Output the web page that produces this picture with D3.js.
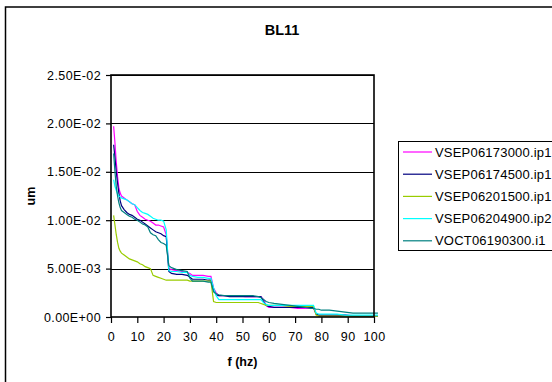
<!DOCTYPE html>
<html>
<head>
<meta charset="utf-8">
<script src="https://cdn.jsdelivr.net/npm/d3@7"></script>
<style>
  body { margin: 0; background: #fff; }
  text { font-family: "Liberation Sans", Arial, sans-serif; fill: #000; }
</style>
</head>
<body>
<svg class="chart" width="552" height="382"></svg>
<script>
//data
let seriesNames = ["VSEP06173000.ip1", "VSEP06174500.ip1", "VSEP06201500.ip1", "VSEP06204900.ip2", "VOCT06190300.i1"];
let seriesColors = ["#ff00ff", "#000080", "#99cc00", "#00ffff", "#008080"];
let yTicks = [0, 0.005, 0.01, 0.015, 0.02, 0.025];
let yTickLabels = ["0.00E+00", "5.00E-03", "1.00E-02", "1.50E-02", "2.00E-02", "2.50E-02"];
let xTicks = [0, 10, 20, 30, 40, 50, 60, 70, 80, 90, 100];

let freq = [1, 1.5, 2, 2.5, 3, 3.5, 4, 5, 6, 7, 8, 9, 10, 11, 12, 13, 14, 15, 16, 17, 18, 19, 20, 21,
  22, 23, 25, 27, 29, 30, 31, 33, 35, 37, 38, 39, 40, 41, 43, 45, 48, 51, 54, 56, 57, 58, 59, 60,
  62, 65, 68, 71, 74, 76, 77, 78, 79, 80, 83, 86, 89, 92, 95, 98, 101.5];

let magenta = [0.0197, 0.0180, 0.0160, 0.0145, 0.0133, 0.0128, 0.0125, 0.0123, 0.0121, 0.0119, 0.0117, 0.0116, 0.0109, 0.0105, 0.0103, 0.0101, 0.0100, 0.0099, 0.0097, 0.0095, 0.0095, 0.0094, 0.0093, 0.0085,
  0.0050, 0.0049, 0.0048, 0.0047, 0.0046, 0.0045, 0.0043, 0.0043, 0.0043, 0.0042, 0.0042, 0.0030, 0.0025, 0.0022, 0.0022, 0.0022, 0.0022, 0.0021, 0.0021, 0.0021, 0.0021, 0.0018, 0.0012, 0.0010,
  0.0010, 0.0010, 0.0010, 0.0009, 0.0009, 0.0009, 0.0009, 0.0003, 0.0002, 0.0002, 0.0002, 0.0002, 0.0002, 0.00015, 0.00015, 0.00015, 0.00015];

let navy = [0.0178, 0.0165, 0.0150, 0.0138, 0.0128, 0.0120, 0.0115, 0.0111, 0.0108, 0.0106, 0.0105, 0.0103, 0.0101, 0.0100, 0.0098, 0.0096, 0.0094, 0.0092, 0.0090, 0.0088, 0.0087, 0.0086, 0.0084, 0.0083,
  0.0047, 0.0045, 0.0044, 0.0044, 0.0043, 0.0041, 0.0039, 0.0039, 0.0039, 0.0038, 0.0038, 0.0028, 0.0023, 0.0022, 0.0022, 0.0021, 0.0021, 0.0021, 0.0021, 0.0021, 0.0021, 0.0016, 0.0012, 0.0011,
  0.0010, 0.0010, 0.0010, 0.0010, 0.0010, 0.0010, 0.0010, 0.0003, 0.0002, 0.0002, 0.0002, 0.0002, 0.0002, 0.0001, 0.0001, 0.0001, 0.0001];

let green = [0.0105, 0.0095, 0.0085, 0.0077, 0.0071, 0.0068, 0.0066, 0.0064, 0.0062, 0.0060, 0.0059, 0.0058, 0.0057, 0.0055, 0.0054, 0.0052, 0.0051, 0.0050, 0.0043, 0.0042, 0.0041, 0.0040, 0.0039, 0.0038,
  0.0038, 0.0038, 0.0038, 0.0038, 0.0038, 0.0037, 0.0037, 0.0037, 0.0037, 0.0037, 0.0037, 0.0016, 0.0015, 0.0015, 0.0015, 0.0015, 0.0015, 0.0015, 0.0015, 0.0015, 0.0014, 0.0013, 0.0012, 0.0012,
  0.0012, 0.0012, 0.0011, 0.0011, 0.0011, 0.0011, 0.0011, 0.0002, 0.0001, 0.0001, 0.0001, 0.0001, 0.0001, 0.0001, 0.0001, 0.0001, 0.0001];

let cyan = [0.0142, 0.0135, 0.0131, 0.0127, 0.0125, 0.0124, 0.0123, 0.0122, 0.0121, 0.0119, 0.0117, 0.0116, 0.0113, 0.0110, 0.0108, 0.0107, 0.0106, 0.0104, 0.0102, 0.0101, 0.0100, 0.0100, 0.0099, 0.0090,
  0.0048, 0.0047, 0.0047, 0.0046, 0.0046, 0.0043, 0.0042, 0.0041, 0.0041, 0.0040, 0.0040, 0.0030, 0.0022, 0.0018, 0.0018, 0.0018, 0.0018, 0.0018, 0.0018, 0.0018, 0.0018, 0.0015, 0.0013, 0.0012,
  0.0012, 0.0012, 0.0012, 0.0012, 0.0012, 0.0012, 0.0012, 0.0004, 0.0003, 0.0003, 0.0003, 0.0003, 0.0002, 0.0002, 0.0002, 0.0002, 0.0002];

let teal = [0.0169, 0.0150, 0.0135, 0.0125, 0.0118, 0.0113, 0.0110, 0.0108, 0.0106, 0.0104, 0.0103, 0.0101, 0.0100, 0.0098, 0.0096, 0.0095, 0.0093, 0.0087, 0.0085, 0.0084, 0.0080, 0.0077, 0.0076, 0.0074,
  0.0053, 0.0051, 0.0049, 0.0048, 0.0047, 0.0040, 0.0037, 0.0037, 0.0037, 0.0036, 0.0036, 0.0026, 0.0024, 0.0023, 0.0022, 0.0022, 0.0022, 0.0022, 0.0022, 0.0021, 0.0020, 0.0018, 0.0016, 0.0015,
  0.0014, 0.0013, 0.0012, 0.0011, 0.0010, 0.0009, 0.0009, 0.0008, 0.0008, 0.0007, 0.0007, 0.0006, 0.0005, 0.0004, 0.0004, 0.0004, 0.0004];

let seriesValues = [magenta, navy, green, cyan, teal];

let svg = d3.select(".chart"),
	margin = {top: 75, right: 178, bottom: 65, left: 111},
	width = 552 - margin.left - margin.right,
	height = 382 - margin.top - margin.bottom;

//chart area border
svg.append("rect")
	.attr("x", 5.5).attr("y", 7)
	.attr("width", 600).attr("height", 400)
	.style("fill", "none")
	.style("stroke", "#000")
	.style("stroke-width", 1.5);

let g = svg.append("g").attr("transform", "translate(" + margin.left + "," + margin.top + ")");

svg.append("text")
	.attr("x", 282)
	.attr("y", 35)
	.attr("text-anchor", "middle")
	.style("font-size", "14.5px")
	.style("font-weight", "bold")
	.text("BL11");

let x = d3.scaleLinear().domain([0, 100]).range([0, width]);
let y = d3.scaleLinear().domain([0, 0.025]).range([height, 0]);

//gridlines
g.selectAll(".grid")
	.data(yTicks.slice(1))
	.enter()
	.append("line")
	.attr("class", "grid")
	.attr("x1", 0).attr("x2", width)
	.attr("y1", d => Math.round(y(d)) + 0.5)
	.attr("y2", d => Math.round(y(d)) + 0.5)
	.style("stroke", "#000")
	.style("stroke-width", 1);

//y axis
let yAxis = g.append("g")
	.attr("class", "y-axis")
	.call(d3.axisLeft(y).tickValues(yTicks).tickSize(5).tickPadding(5)
		.tickFormat((d, i) => yTickLabels[i]));

//x axis
let xAxis = g.append("g")
	.attr("class", "x-axis")
	.attr("transform", "translate(0," + height + ")")
	.call(d3.axisBottom(x).tickValues(xTicks).tickSize(6).tickPadding(9));

[yAxis, xAxis].forEach(function(ax){
	ax.select(".domain").remove();
	ax.selectAll("line").style("stroke", "#000").style("stroke-width", 1.2);
	ax.selectAll("text")
		.style("font-family", "'Liberation Sans', Arial, sans-serif")
		.style("font-size", "12.5px")
		.style("letter-spacing", "0.4px")
		.style("fill", "#000");
});

//series lines
let line = d3.line()
	.x(function(d) { return x(d[0]); })
	.y(function(d) { return y(d[1]); });

seriesValues.forEach(function(vals, i){
	g.append("path")
		.datum(freq.map(function(f, j){ return [f, vals[j]]; }))
		.attr("d", line)
		.style("fill", "none")
		.style("stroke", seriesColors[i])
		.style("stroke-width", 1.2);
});

//plot area frame
g.append("rect")
	.attr("x", 0).attr("y", 0)
	.attr("width", width).attr("height", height)
	.style("fill", "none")
	.style("stroke", "#000")
	.style("stroke-width", 1.6);

//axis titles
svg.append("text")
	.attr("transform", "translate(35,196) rotate(-90)")
	.attr("text-anchor", "middle")
	.style("font-size", "12.5px")
	.style("font-weight", "bold")
	.text("um");

svg.append("text")
	.attr("x", margin.left + width / 2)
	.attr("y", 366)
	.attr("text-anchor", "middle")
	.style("font-size", "12.5px")
	.style("font-weight", "bold")
	.text("f (hz)");

//legend
let legend = svg.append("g").attr("class", "legend");
legend.append("rect")
	.attr("x", 398.5).attr("y", 141.5)
	.attr("width", 200).attr("height", 109)
	.style("fill", "#fff")
	.style("stroke", "#000")
	.style("stroke-width", 1);

seriesNames.forEach(function(name, i){
	let ly = 152 + i * 22.2;
	legend.append("line")
		.attr("x1", 403).attr("x2", 432)
		.attr("y1", ly).attr("y2", ly)
		.style("stroke", seriesColors[i])
		.style("stroke-width", 1.2);
	legend.append("text")
		.attr("x", 435)
		.attr("y", ly + 4.5)
		.style("font-size", "13px")
		.style("letter-spacing", "0.2px")
		.text(name);
});
</script>
</body>
</html>
